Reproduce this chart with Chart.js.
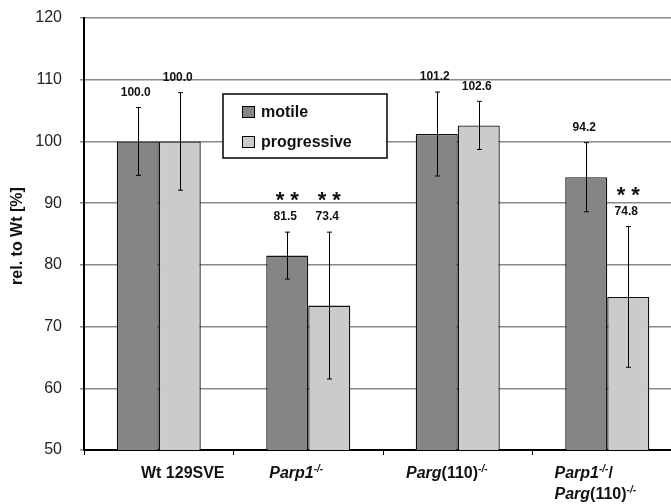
<!DOCTYPE html>
<html>
<head>
<meta charset="utf-8">
<script src="https://cdn.jsdelivr.net/npm/chart.js@4"></script>
<style>
  html, body { margin: 0; padding: 0; background: #fff; overflow: hidden; }
  #wrap { width: 700px; height: 504px; position: relative; }
</style>
</head>
<body>
<div id="wrap"><canvas id="chart"></canvas></div>
<script>
const categories = [['Wt 129SVE'], ['Parp1-/-'], ['Parg(110)-/-'], ['Parp1-/-/', 'Parg(110)-/-']];
const seriesNames = ['motile', 'progressive'];
const motile = [100.0, 81.5, 101.2, 94.2];
const motileErr = [5.5, 3.8, 6.8, 5.6];
const progressive = [100.0, 73.4, 102.6, 74.8];
const progressiveErr = [7.9, 11.9, 3.9, 11.4];
const motileSig = ['', '**', '', ''];
const progressiveSig = ['', '**', '', '**'];
const yTicks = [50, 60, 70, 80, 90, 100, 110, 120];

const FONT = '"Liberation Sans", Arial, sans-serif';
const labelShift = [24, -12, -11, -12];

// split a label line into runs: gene names in italics, -/- as superscript
function runs(line) {
  return line.split(/(Parp1|Parg|-\/-)/).filter(s => s).map(s => ({
    text: s,
    italic: s === 'Parp1' || s === 'Parg' || s === '-/-',
    sup: s === '-/-'
  }));
}

function runFont(r) {
  return (r.italic ? 'italic ' : '') + 'bold ' + (r.sup ? 10 : 16) + 'px ' + FONT;
}

function lineWidth(ctx, line) {
  let w = 0;
  runs(line).forEach(r => { ctx.font = runFont(r); w += ctx.measureText(r.text).width; });
  return w;
}

const overlay = {
  id: 'overlay',
  afterDatasetsDraw(chart) {
    const ctx = chart.ctx;
    const y = chart.scales.y;
    ctx.save();
    chart.data.datasets.forEach((ds, di) => {
      chart.getDatasetMeta(di).data.forEach((bar, i) => {
        const v = ds.data[i], e = ds.errors[i];
        const yt = y.getPixelForValue(v + e), yb = y.getPixelForValue(v - e);
        const x = Math.round(bar.x) + 0.5;
        ctx.strokeStyle = '#000';
        ctx.lineWidth = 1;
        ctx.beginPath();
        ctx.moveTo(x, yt); ctx.lineTo(x, yb);
        ctx.moveTo(x - 2.5, yt); ctx.lineTo(x + 2.5, yt);
        ctx.moveTo(x - 2.5, yb); ctx.lineTo(x + 2.5, yb);
        ctx.stroke();
        ctx.fillStyle = '#111';
        ctx.textAlign = 'center';
        ctx.textBaseline = 'middle';
        ctx.font = 'bold 12px ' + FONT;
        ctx.fillText(v.toFixed(1), bar.x - 2, yt - 15);
        if (ds.sig[i]) {
          ctx.font = 'bold 22px ' + FONT;
          ctx.textBaseline = 'alphabetic';
          ctx.fillText(ds.sig[i].split('').join(' '), bar.x, yt - 25);
        }
      });
    });
    ctx.restore();
  },
  afterDraw(chart) {
    const ctx = chart.ctx;
    const area = chart.chartArea;
    const xs = chart.scales.x;
    ctx.save();

    // legend
    const lx = area.left + 139, ly = area.top + 76;
    ctx.fillStyle = '#fff';
    ctx.fillRect(lx, ly, 164, 64);
    ctx.strokeStyle = '#000';
    ctx.lineWidth = 1.5;
    ctx.strokeRect(lx, ly, 164, 64);
    chart.data.datasets.forEach((ds, di) => {
      const cy = ly + 18 + di * 30;
      ctx.fillStyle = ds.backgroundColor;
      ctx.fillRect(lx + 19, cy - 6, 13, 12);
      ctx.lineWidth = 1;
      ctx.strokeRect(lx + 19.5, cy - 5.5, 12, 11);
      ctx.fillStyle = '#111';
      ctx.font = 'bold 16px ' + FONT;
      ctx.textAlign = 'left';
      ctx.textBaseline = 'middle';
      ctx.fillText(ds.label, lx + 38, cy + 1);
    });

    // category labels with italics and superscripts
    ctx.textAlign = 'left';
    ctx.textBaseline = 'alphabetic';
    ctx.fillStyle = '#111';
    categories.forEach((lines, i) => {
      const cx = xs.getPixelForValue(i) + labelShift[i];
      const bw = Math.max(...lines.map(l => lineWidth(ctx, l)));
      lines.forEach((line, li) => {
        let x = cx - bw / 2;
        const base = area.bottom + 28 + li * 21;
        runs(line).forEach(r => {
          ctx.font = runFont(r);
          ctx.fillText(r.text, x, r.sup ? base - 6 : base);
          x += ctx.measureText(r.text).width;
        });
      });
    });

    // y axis title
    ctx.translate(18, 236);
    ctx.rotate(-Math.PI / 2);
    ctx.textAlign = 'center';
    ctx.textBaseline = 'middle';
    ctx.font = 'bold 16px ' + FONT;
    ctx.fillText('rel. to Wt [%]', 0, 0);
    ctx.restore();
  }
};

new Chart('chart', {
  type: 'bar',
  data: {
    labels: categories,
    datasets: [{
      label: seriesNames[0],
      data: motile,
      errors: motileErr,
      sig: motileSig,
      backgroundColor: '#858585',
      borderColor: '#111',
      borderWidth: 1.3,
      borderSkipped: false
    }, {
      label: seriesNames[1],
      data: progressive,
      errors: progressiveErr,
      sig: progressiveSig,
      backgroundColor: '#cbcbcb',
      borderColor: '#111',
      borderWidth: 1.3,
      borderSkipped: false
    }]
  },
  options: {
    responsive: true,
    maintainAspectRatio: false,
    animation: false,
    categoryPercentage: 0.562,
    barPercentage: 1.0,
    layout: { padding: { top: 0, right: 18, left: 0, bottom: 0 } },
    plugins: {
      legend: { display: false },
      tooltip: { enabled: false }
    },
    scales: {
      x: {
        grid: { display: true, drawOnChartArea: false, offset: true, tickLength: 5, color: '#000', lineWidth: 1 },
        border: { color: '#000', width: 2 },
        ticks: { color: 'rgba(0,0,0,0)' },
        afterFit(scale) { scale.height = 54; }
      },
      y: {
        min: 50,
        max: 120,
        afterBuildTicks(scale) { scale.ticks = yTicks.map(v => ({ value: v })); },
        grid: { color: '#8a8a8a', lineWidth: 1.5, tickLength: 4 },
        border: { color: '#000', width: 2 },
        ticks: { color: '#222', padding: 18, font: { family: FONT, size: 16 } },
        afterFit(scale) { scale.width = 84; scale.paddingTop = 18; }
      }
    }
  },
  plugins: [overlay]
});
</script>
</body>
</html>
